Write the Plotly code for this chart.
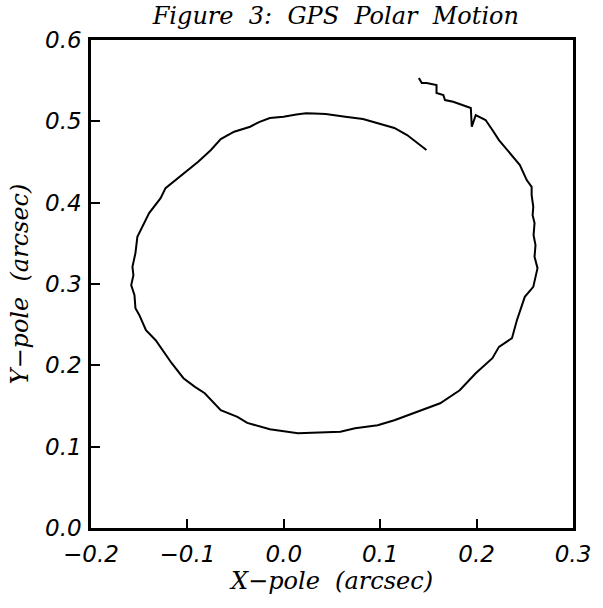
import plotly.graph_objects as go

# Polar motion track (arcsec)
x_pole = [0.148, 0.1279, 0.1147, 0.0994, 0.0821, 0.0638, 0.0435, 0.0313, 0.0231, 0.0130,
          -0.0003, -0.0145, -0.0257, -0.0349, -0.0440, -0.0515, -0.0654, -0.0756, -0.0888, -0.1092,
          -0.1227, -0.1278, -0.1397, -0.1519, -0.1529, -0.1539, -0.1570, -0.1560, -0.1583, -0.1549,
          -0.1539, -0.1498, -0.1430, -0.1329, -0.1163, -0.1041, -0.0922, -0.0820, -0.0654, -0.0481,
          -0.0379, -0.0145, 0.0146, 0.0333, 0.0465, 0.0587, 0.0739, 0.0974, 0.1147, 0.1381,
          0.1503, 0.1622, 0.1825, 0.1991, 0.2164, 0.2232, 0.2367, 0.2418, 0.2500, 0.2588,
          0.2632, 0.2601, 0.2611, 0.2591, 0.2601, 0.2581, 0.2588, 0.2571, 0.2571, 0.2520,
          0.2449, 0.2334, 0.2232, 0.2164, 0.2093, 0.1991, 0.1950, 0.1940, 0.1859, 0.1757,
          0.1672, 0.1655, 0.1584, 0.1584, 0.1482, 0.1431, 0.1401]
y_pole = [0.4647, 0.4831, 0.4918, 0.4967, 0.5028, 0.5057, 0.5090, 0.5096, 0.5098, 0.5084,
          0.5057, 0.5041, 0.4991, 0.4934, 0.4899, 0.4872, 0.4782, 0.4647, 0.4503, 0.4302,
          0.4179, 0.4056, 0.3872, 0.3580, 0.3478, 0.3380, 0.3211, 0.3109, 0.2986, 0.2863,
          0.2703, 0.2617, 0.2432, 0.2309, 0.2026, 0.1842, 0.1735, 0.1657, 0.1448, 0.1366,
          0.1292, 0.1214, 0.1165, 0.1171, 0.1177, 0.1184, 0.1227, 0.1264, 0.1325, 0.1427,
          0.1485, 0.1534, 0.1694, 0.1903, 0.2088, 0.2227, 0.2334, 0.2555, 0.2842, 0.2965,
          0.3195, 0.3334, 0.3478, 0.3601, 0.3749, 0.3845, 0.3949, 0.4093, 0.4195, 0.4278,
          0.4462, 0.4626, 0.4770, 0.4893, 0.5016, 0.5077, 0.4934, 0.5164, 0.5201, 0.5241,
          0.5262, 0.5324, 0.5348, 0.5447, 0.5471, 0.5471, 0.5533]

x_ticks = [-0.2, -0.1, 0.0, 0.1, 0.2, 0.3]
x_labels = ["\u22120.2", "\u22120.1", "0.0", "0.1", "0.2", "0.3"]
y_ticks = [0.0, 0.1, 0.2, 0.3, 0.4, 0.5, 0.6]
y_labels = ["0.0", "0.1", "0.2", "0.3", "0.4", "0.5", "0.6"]

title_text = "Figure\u00a0\u00a03:\u00a0\u00a0GPS\u00a0\u00a0Polar\u00a0\u00a0Motion"
x_title = "X\u2212pole\u00a0\u00a0(arcsec)"
y_title = "Y\u2212pole\u00a0\u00a0(arcsec)"

serif = dict(family="DejaVu Serif", size=24, color="black", style="italic")
serif_ax = dict(family="DejaVu Serif", size=24, color="black", style="italic")
sans = dict(family="DejaVu Sans", size=23, color="black", style="italic")

fig = go.Figure()
fig.add_trace(go.Scatter(x=x_pole, y=y_pole, mode="lines",
                         line=dict(color="black", width=2), showlegend=False,
                         hoverinfo="skip"))

fig.update_layout(
    width=603, height=608,
    margin=dict(l=91, r=21, t=40, b=80),
    paper_bgcolor="white", plot_bgcolor="white",
    title=dict(text=title_text, font=serif,
               x=0.557, xanchor="center",
               y=1 - 16 / 608, yanchor="middle"),
)
fig.update_xaxes(range=[-0.2, 0.3], tickvals=x_ticks, ticktext=x_labels,
                 ticks="inside", ticklen=9, tickwidth=1.5, tickcolor="black",
                 showline=True, linewidth=2.5, linecolor="black", mirror=True,
                 showgrid=False, zeroline=False, tickfont=sans,
                 ticklabelstandoff=4,
                 title=dict(text=x_title, font=serif_ax, standoff=6))
fig.update_yaxes(range=[0, 0.6], tickvals=y_ticks, ticktext=y_labels,
                 ticks="inside", ticklen=9, tickwidth=1.5, tickcolor="black",
                 showline=True, linewidth=2.5, linecolor="black", mirror=True,
                 showgrid=False, zeroline=False, tickfont=sans,
                 ticklabelstandoff=2,
                 title=dict(text=y_title, font=serif_ax, standoff=10))

fig.write_html("out.html")
